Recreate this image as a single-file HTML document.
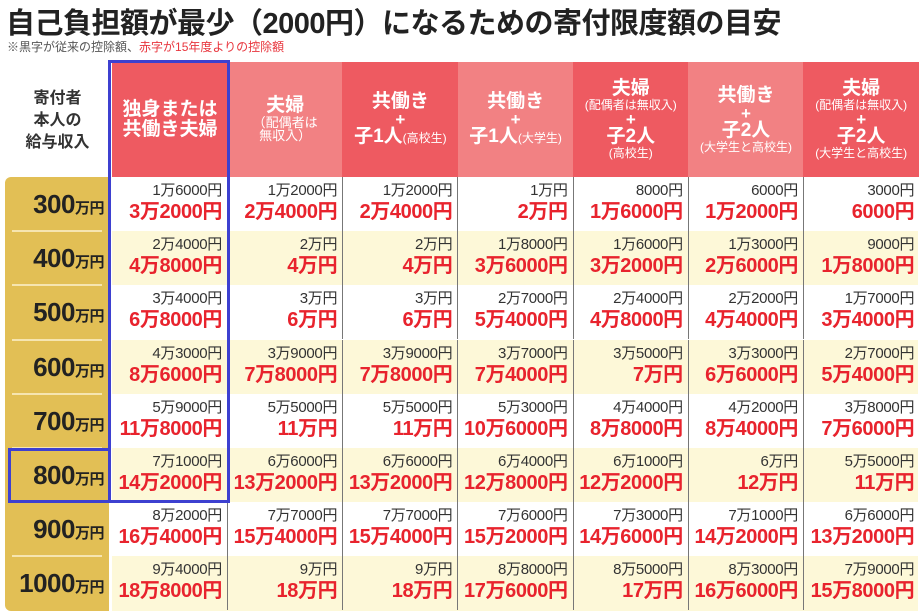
<!DOCTYPE html>
<html><head><meta charset="utf-8">
<style>
body{margin:0;width:920px;height:615px;background:#fff;overflow:hidden;font-family:"Liberation Sans","Noto Sans CJK JP",sans-serif;position:relative}
.abs{position:absolute}
#title{left:6px;top:0;font-size:29px;font-weight:bold;color:#222;letter-spacing:-0.5px;white-space:nowrap}
#note{left:7px;top:38px;font-size:12px;color:#555;white-space:nowrap}
#note span{color:#e8353d}
.hdr{top:62px;height:115px;color:#fff;text-align:center;font-weight:bold;display:flex;flex-direction:column;justify-content:center;line-height:1.05}
.hdr .big{font-size:19px}
.hdr .sm{font-size:12px;font-weight:normal}
.hdr .plus{font-size:17px;line-height:0.9}
.gold{left:5px;top:177px;width:104px;height:434px;background:#e2bf55;border-radius:6px 0 0 6px}
.rl{left:5px;width:104px;height:54px;font-weight:bold;color:#222;text-align:right;box-sizing:border-box;padding-right:5px;line-height:54px;font-size:26px;letter-spacing:-0.5px}
.rl small{font-size:15px}
.sep{left:12px;width:90px;height:2px;background:#f6e5b0}
.cell{height:54px;box-sizing:border-box;text-align:right;padding-right:5px;border-right:1.5px solid #777}
.t1{font-size:15px;color:#333;margin-top:4px;line-height:19px;letter-spacing:-0.3px}
.t2{font-size:20px;color:#e8232d;font-weight:bold;line-height:24px;letter-spacing:-0.4px}
.box{border:3px solid #3d40d0;box-sizing:border-box}
</style></head><body>
<div class="abs" id="title">自己負担額が最少（2000円）になるための寄付限度額の目安</div>
<div class="abs" id="note">※黒字が従来の控除額、<span>赤字が15年度よりの控除額</span></div>
<div class="abs" style="left:10px;top:88px;width:95px;text-align:center;font-size:16px;font-weight:bold;color:#333;line-height:22px">寄付者<br>本人の<br>給与収入</div>
<div class="abs gold"></div>
<div id="grid"></div>
<div class="abs box" style="left:108px;top:60px;width:122px;height:443px"></div>
<div class="abs box" style="left:8px;top:448px;width:103px;height:55px"></div>
<script>
const incomes=["300","400","500","600","700","800","900","1000"];
const headers=[
 '<div class="big">独身または<br>共働き夫婦</div>',
 '<div class="big">夫婦</div><div class="sm" style="font-size:13px">（配偶者は<br>無収入）</div>',
 '<div class="big">共働き</div><div class="plus">+</div><div class="big">子1人<span class="sm">(高校生)</span></div>',
 '<div class="big">共働き</div><div class="plus">+</div><div class="big">子1人<span class="sm">(大学生)</span></div>',
 '<div class="big">夫婦</div><div class="sm">(配偶者は無収入)</div><div class="plus">+</div><div class="big">子2人</div><div class="sm">(高校生)</div>',
 '<div class="big">共働き</div><div class="plus">+</div><div class="big">子2人</div><div class="sm">(大学生と高校生)</div>',
 '<div class="big">夫婦</div><div class="sm">(配偶者は無収入)</div><div class="plus">+</div><div class="big">子2人</div><div class="sm">(大学生と高校生)</div>'];
const oldVals=[
 ["1万6000","1万2000","1万2000","1万","8000","6000","3000"],
 ["2万4000","2万","2万","1万8000","1万6000","1万3000","9000"],
 ["3万4000","3万","3万","2万7000","2万4000","2万2000","1万7000"],
 ["4万3000","3万9000","3万9000","3万7000","3万5000","3万3000","2万7000"],
 ["5万9000","5万5000","5万5000","5万3000","4万4000","4万2000","3万8000"],
 ["7万1000","6万6000","6万6000","6万4000","6万1000","6万","5万5000"],
 ["8万2000","7万7000","7万7000","7万6000","7万3000","7万1000","6万6000"],
 ["9万4000","9万","9万","8万8000","8万5000","8万3000","7万9000"]];
const newVals=[
 ["3万2000","2万4000","2万4000","2万","1万6000","1万2000","6000"],
 ["4万8000","4万","4万","3万6000","3万2000","2万6000","1万8000"],
 ["6万8000","6万","6万","5万4000","4万8000","4万4000","3万4000"],
 ["8万6000","7万8000","7万8000","7万4000","7万","6万6000","5万4000"],
 ["11万8000","11万","11万","10万6000","8万8000","8万4000","7万6000"],
 ["14万2000","13万2000","13万2000","12万8000","12万2000","12万","11万"],
 ["16万4000","15万4000","15万4000","15万2000","14万6000","14万2000","13万2000"],
 ["18万8000","18万","18万","17万6000","17万","16万6000","15万8000"]];
const colX=c=>112+c*115.2, rowY=r=>177+r*54.2;
const g=document.getElementById('grid');
headers.forEach((h,c)=>{
 const d=document.createElement('div');
 
 
 d.className='abs hdr';d.style.left=colX(c)+'px';d.style.width='116px';
 d.style.background=c%2===0?'#ee5a61':'#f28183';d.innerHTML=h;g.appendChild(d);
});
incomes.forEach((inc,r)=>{
 const bg=document.createElement('div');
 
 
 bg.className='abs';bg.style.cssText=`left:112px;top:${rowY(r)}px;width:806px;height:55px;background:${r%2?'#fdf8d8':'#fff'}`;g.appendChild(bg);
 const l=document.createElement('div');
 
 
 l.className='abs rl';l.style.top=rowY(r)+'px';l.innerHTML=inc+'<small>万円</small>';g.appendChild(l);
 if(r>0){const s=document.createElement('div');
 
 
 s.className='abs sep';s.style.top=(rowY(r)-1)+'px';g.appendChild(s);}
 for(let c=0;c<7;c++){
  const d=document.createElement('div');
  
  
  d.className='abs cell';d.style.left=colX(c)+'px';d.style.top=rowY(r)+'px';d.style.width='116px';
  if(c===6)d.style.borderRight='none';
  d.innerHTML=`<div class="t1">${oldVals[r][c]}円</div><div class="t2">${newVals[r][c]}円</div>`;
  g.appendChild(d);
 }
});
</script>
</body></html>
